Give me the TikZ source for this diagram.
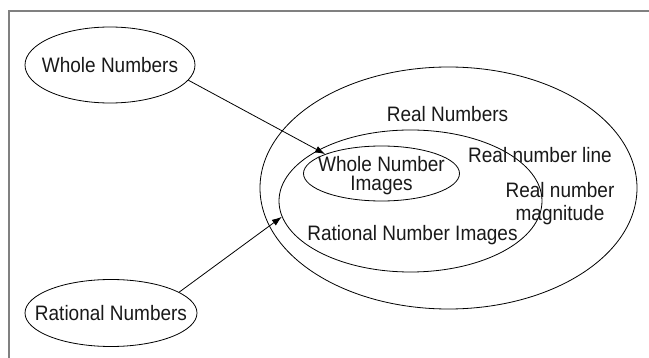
\documentclass[tikz,border=0pt]{standalone}
\usepackage{fontspec}
\setmainfont{Liberation Sans}
\usetikzlibrary{shapes.geometric,arrows.meta}
\tikzset{
  oval/.style={draw, ellipse, inner sep=0pt, line width=0.8pt},
  txt/.style={font=\fontsize{19}{22}\selectfont, align=center, inner sep=0pt, text=black!90, yscale=1.1, transform shape},
  link/.style={-{Latex[length=10pt,width=7pt]}, line width=0.8pt}
}
\begin{document}
\begin{tikzpicture}[x=1pt, y=-1pt]
			\useasboundingbox (0,0) rectangle (649,358);
			\draw[gray, line width=1.5pt] (9,358) -- (9,11) -- (649,11);
			% outer sets on the left
			\node[oval, minimum width=170pt, minimum height=76pt, label={[txt]center:Whole Numbers}] (whole) at (110,65) {};
			\node[oval, minimum width=172pt, minimum height=67pt, label={[txt]center:Rational Numbers}] (rational) at (111,313) {};
			% nested sets on the right
			\node[oval, minimum width=377pt, minimum height=242pt] (real) at (448.5,188) {};
			\node[oval, minimum width=263pt, minimum height=142pt] (rni) at (410.5,201) {};
			\node[oval, minimum width=156pt, minimum height=55pt] (wni) at (381.5,173.5) {};
			\node[txt, font=\fontsize{19}{18}\selectfont] (wnitext) at (381.5,175.5) {Whole Number\\Images};
			\node[txt] (realtext) at (447.5,114) {Real Numbers};
			\node[txt] (linetext) at (540,155) {Real number line};
			\node[txt, font=\fontsize{19}{21}\selectfont] (magtext) at (560,203.5) {Real number\\magnitude};
			\node[txt] (rnitext) at (412.5,235) {Rational Number Images};
			\draw[link] (whole.-11) -- (wni.161);
			\draw[link] (rational.17) -- (rni.187);
		\end{tikzpicture}
\end{document}
